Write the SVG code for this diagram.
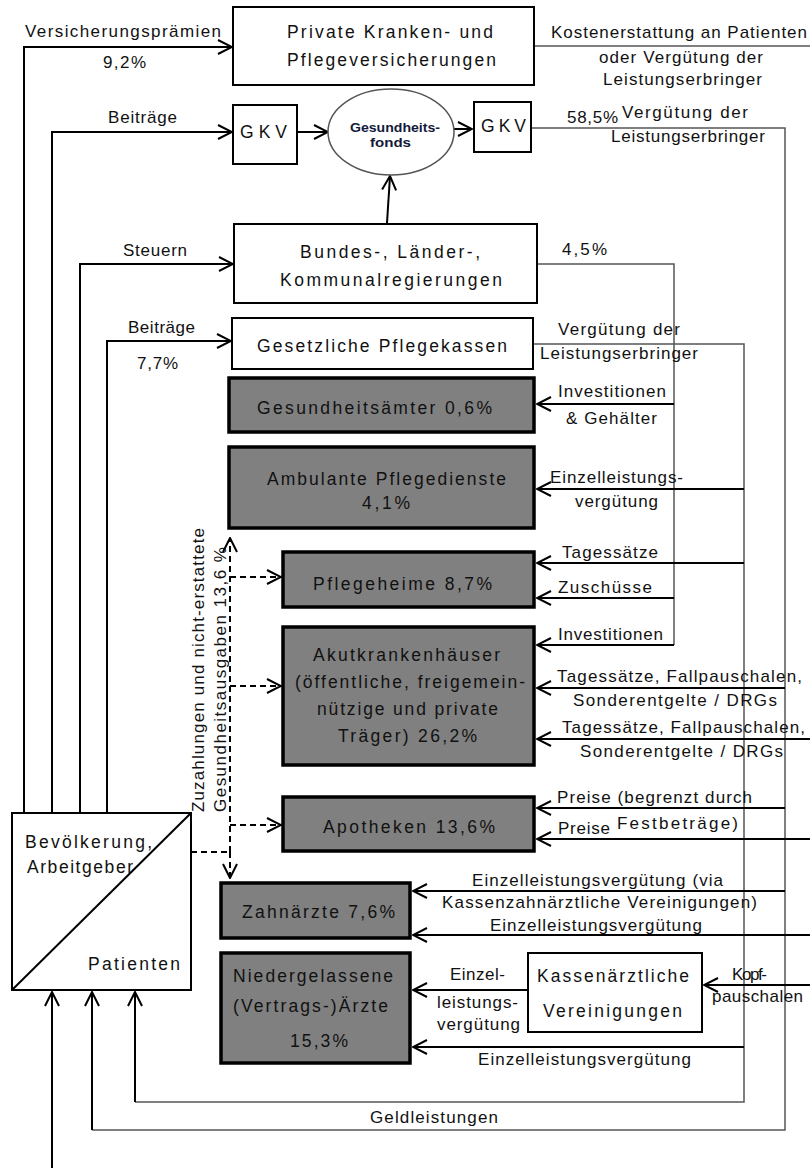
<svg xmlns="http://www.w3.org/2000/svg" width="810" height="1168" viewBox="0 0 810 1168">
<style>
text{font-family:"Liberation Sans",Arial,sans-serif;font-size:17px;fill:#111}
.bt{font-size:17.5px}
.fb{font-size:12px;font-weight:bold;fill:#141a3c}
.box{fill:#fff;stroke:#000;stroke-width:2}
.gbox{fill:#808080;stroke:#000;stroke-width:3.5}
.c{fill:none;stroke:#000;stroke-width:2}
.g{fill:none;stroke:#555;stroke-width:1.5}
.d{fill:none;stroke:#000;stroke-width:2;stroke-dasharray:6 4}
</style>
<defs>
<marker id="a" viewBox="0 0 16 16" refX="15" refY="8" markerWidth="16" markerHeight="16" markerUnits="userSpaceOnUse" orient="auto">
<path d="M1,1 L15,8 L1,15" fill="none" stroke="#000" stroke-width="2"/>
</marker>
</defs>
<rect width="810" height="1168" fill="#fff"/>

<g id="connectors">
<path class="c" d="M24,813 V47 H232" marker-end="url(#a)"/>
<path class="c" d="M52,813 V132 H232" marker-end="url(#a)"/>
<path class="c" d="M80,813 V264 H233" marker-end="url(#a)"/>
<path class="c" d="M107,813 V341 H231" marker-end="url(#a)"/>
<path class="c" d="M298,132 H328" marker-end="url(#a)"/>
<path class="c" d="M454,129 H472" marker-end="url(#a)"/>
<path class="c" d="M387,223 L390,176" marker-end="url(#a)"/>
<path class="c" d="M52,1168 V992" marker-end="url(#a)"/>
<path class="g" d="M534,46 H810"/>
<path class="g" d="M531,128 H785 V1130 H92"/>
<path class="c" d="M92,1130 V992" marker-end="url(#a)"/>
<path class="g" d="M537,264 H674 V645"/>
<path class="g" d="M533,344 H744 V1102 H135"/>
<path class="c" d="M135,1102 V992" marker-end="url(#a)"/>
<path class="c" d="M674,404 H537" marker-end="url(#a)"/>
<path class="c" d="M744,489 H537" marker-end="url(#a)"/>
<path class="c" d="M744,563 H537" marker-end="url(#a)"/>
<path class="c" d="M674,598 H537" marker-end="url(#a)"/>
<path class="c" d="M674,645 H537" marker-end="url(#a)"/>
<path class="c" d="M785,688 H537" marker-end="url(#a)"/>
<path class="c" d="M810,739 H537" marker-end="url(#a)"/>
<path class="c" d="M785,808 H537" marker-end="url(#a)"/>
<path class="c" d="M810,839 H537" marker-end="url(#a)"/>
<path class="c" d="M785,891 H413" marker-end="url(#a)"/>
<path class="c" d="M810,935 H413" marker-end="url(#a)"/>
<path class="c" d="M810,985 H704" marker-end="url(#a)"/>
<path class="c" d="M528,990 H413" marker-end="url(#a)"/>
<path class="c" d="M744,1047 H413" marker-end="url(#a)"/>
<path class="d" d="M191,852 H230"/>
<path class="d" d="M230,852 V538" marker-end="url(#a)"/>
<path class="d" d="M230,852 V878" marker-end="url(#a)"/>
<path class="d" d="M230,577 H281" marker-end="url(#a)"/>
<path class="d" d="M230,686 H281" marker-end="url(#a)"/>
<path class="d" d="M230,825 H281" marker-end="url(#a)"/>
</g>

<g id="labels">
<text x="25" y="37" textLength="196">Versicherungsprämien</text>
<text x="103" y="68" textLength="43">9,2%</text>
<text x="551" y="38" textLength="256">Kostenerstattung an Patienten</text>
<text x="599" y="63" textLength="164">oder Vergütung der</text>
<text x="603" y="85" textLength="159">Leistungserbringer</text>
<text x="108" y="123" textLength="69">Beiträge</text>
<text x="567" y="123" textLength="51">58,5%</text>
<text x="622" y="118" textLength="126">Vergütung der</text>
<text x="611" y="142" textLength="154">Leistungserbringer</text>
<text x="123" y="256" textLength="64">Steuern</text>
<text x="562" y="255" textLength="45">4,5%</text>
<text x="128" y="333" textLength="67">Beiträge</text>
<text x="137" y="369" textLength="41">7,7%</text>
<text x="558" y="335" textLength="122">Vergütung der</text>
<text x="540" y="359" textLength="158">Leistungserbringer</text>
<text x="558" y="397" textLength="108">Investitionen</text>
<text x="566" y="424" textLength="91">&amp; Gehälter</text>
<text x="550" y="483" textLength="133">Einzelleistungs-</text>
<text x="575" y="507" textLength="83">vergütung</text>
<text x="562" y="558" textLength="96">Tagessätze</text>
<text x="558" y="593" textLength="94">Zuschüsse</text>
<text x="558" y="640" textLength="105">Investitionen</text>
<text x="557" y="682" textLength="245">Tagessätze, Fallpauschalen,</text>
<text x="573" y="706" textLength="204">Sonderentgelte / DRGs</text>
<text x="562" y="733" textLength="243">Tagessätze, Fallpauschalen,</text>
<text x="580" y="757" textLength="203">Sonderentgelte / DRGs</text>
<text x="557" y="803" textLength="195">Preise (begrenzt durch</text>
<text x="558" y="834" textLength="52">Preise</text>
<text x="617" y="829" textLength="121">Festbeträge)</text>
<text x="472" y="886" textLength="251">Einzelleistungsvergütung (via</text>
<text x="442" y="908" textLength="315">Kassenzahnärztliche Vereinigungen)</text>
<text x="490" y="931" textLength="212">Einzelleistungsvergütung</text>
<text x="450" y="980" textLength="55">Einzel-</text>
<text x="437" y="1008" textLength="81">leistungs-</text>
<text x="437" y="1030" textLength="83">vergütung</text>
<text x="732" y="980" textLength="35">Kopf-</text>
<text x="712" y="1002" textLength="91">pauschalen</text>
<text x="478" y="1065" textLength="213">Einzelleistungsvergütung</text>
<text x="370" y="1123" textLength="128">Geldleistungen</text>
<text transform="translate(204,812) rotate(-90)" textLength="284">Zuzahlungen und nicht-erstattete</text>
<text transform="translate(226,812) rotate(-90)" textLength="265">Gesundheitsausgaben 13,6 %</text>
</g>

<g id="private">
<rect class="box" x="233" y="7" width="301" height="78"/>
<text class="bt" x="287" y="38" textLength="206">Private Kranken- und</text>
<text class="bt" x="287" y="66" textLength="209">Pflegeversicherungen</text>
</g>
<g id="gkv1">
<rect class="box" x="233" y="105" width="64" height="59" stroke-width="2.5"/>
<text class="bt" x="240" y="138" textLength="47">GKV</text>
</g>
<g id="fonds">
<ellipse cx="391" cy="132" rx="63" ry="43" fill="#fff" stroke="#555" stroke-width="1.5"/>
<text class="fb" x="350" y="132" textLength="90" lengthAdjust="spacingAndGlyphs">Gesundheits-</text>
<text class="fb" x="370" y="147" textLength="41" lengthAdjust="spacingAndGlyphs">fonds</text>
</g>
<g id="gkv2">
<rect class="box" x="474" y="102" width="57" height="50" stroke-width="2.5"/>
<text class="bt" x="481" y="132" textLength="45">GKV</text>
</g>
<g id="bundes">
<rect class="box" x="234" y="224" width="303" height="79"/>
<text class="bt" x="300" y="258" textLength="180">Bundes-, Länder-,</text>
<text class="bt" x="280" y="286" textLength="222">Kommunalregierungen</text>
</g>
<g id="pflegekassen">
<rect class="box" x="232" y="318" width="301" height="51"/>
<text class="bt" x="257" y="352" textLength="250">Gesetzliche Pflegekassen</text>
</g>
<g id="gesundheitsaemter">
<rect class="gbox" x="229" y="378" width="305" height="54"/>
<text class="bt" x="257" y="414" textLength="235">Gesundheitsämter 0,6%</text>
</g>
<g id="ambulante">
<rect class="gbox" x="229" y="447" width="305" height="81"/>
<text class="bt" x="267" y="485" textLength="239">Ambulante Pflegedienste</text>
<text class="bt" x="362" y="509" textLength="48">4,1%</text>
</g>
<g id="pflegeheime">
<rect class="gbox" x="283" y="552" width="251" height="55"/>
<text class="bt" x="313" y="590" textLength="179">Pflegeheime 8,7%</text>
</g>
<g id="akut">
<rect class="gbox" x="283" y="627" width="251" height="138"/>
<text class="bt" x="313" y="661" textLength="187">Akutkrankenhäuser</text>
<text class="bt" x="295" y="688" textLength="230">(öffentliche, freigemein-</text>
<text class="bt" x="317" y="715" textLength="181">nützige und private</text>
<text class="bt" x="338" y="742" textLength="139">Träger) 26,2%</text>
</g>
<g id="apotheken">
<rect class="gbox" x="283" y="797" width="251" height="54"/>
<text class="bt" x="323" y="833" textLength="172">Apotheken 13,6%</text>
</g>
<g id="zahnaerzte">
<rect class="gbox" x="221" y="883" width="189" height="55"/>
<text class="bt" x="242" y="918" textLength="153">Zahnärzte 7,6%</text>
</g>
<g id="aerzte">
<rect class="gbox" x="221" y="953" width="189" height="110"/>
<text class="bt" x="233" y="982" textLength="160">Niedergelassene</text>
<text class="bt" x="233" y="1012" textLength="155">(Vertrags-)Ärzte</text>
<text class="bt" x="290" y="1047" textLength="58">15,3%</text>
</g>
<g id="kv">
<rect class="box" x="528" y="953" width="174" height="79" stroke-width="2.5"/>
<text class="bt" x="537" y="982" textLength="152">Kassenärztliche</text>
<text class="bt" x="543" y="1017" textLength="139">Vereinigungen</text>
</g>
<g id="bevoelkerung">
<rect class="box" x="12" y="813" width="179" height="177"/>
<line x1="12" y1="990" x2="191" y2="813" stroke="#000" stroke-width="2"/>
<text class="bt" x="25" y="848" textLength="127">Bevölkerung,</text>
<text class="bt" x="27" y="873" textLength="106">Arbeitgeber</text>
<text class="bt" x="88" y="970" textLength="92">Patienten</text>
</g>
</svg>
